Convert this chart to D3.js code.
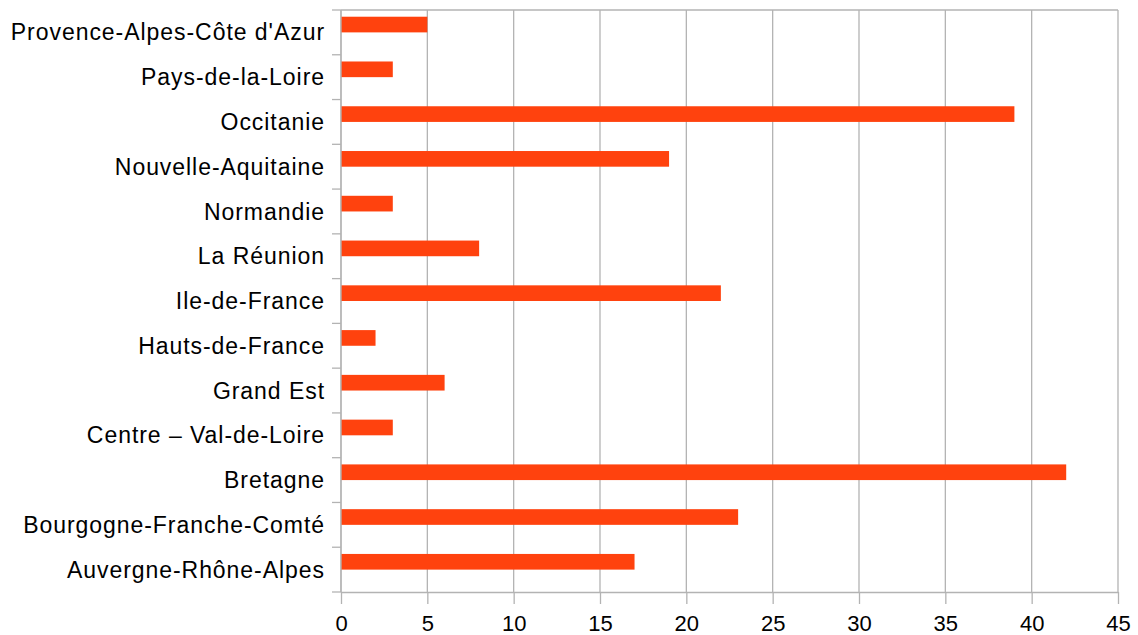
<!DOCTYPE html>
<html>
<head>
<meta charset="utf-8">
<script src="https://cdn.jsdelivr.net/npm/d3@7"></script>
<style>
  html, body { margin: 0; padding: 0; background: #fff; }
  svg { display: block; }
  text { font-family: "Liberation Sans", Arial, sans-serif; fill: #000; }
</style>
</head>
<body>
<svg id="chart" width="1138" height="635"></svg>
<script>
const categories = [
  "Provence-Alpes-Côte d'Azur", "Pays-de-la-Loire", "Occitanie", "Nouvelle-Aquitaine",
  "Normandie", "La Réunion", "Ile-de-France", "Hauts-de-France", "Grand Est",
  "Centre – Val-de-Loire", "Bretagne", "Bourgogne-Franche-Comté", "Auvergne-Rhône-Alpes"
];
const values = [5, 3, 39, 19, 3, 8, 22, 2, 6, 3, 42, 23, 17];
const xTicks = [0, 5, 10, 15, 20, 25, 30, 35, 40, 45];

(function () {
const svg = d3.select("#chart");
const pLeft = 341, pRight = 1118, pTop = 10, pBottom = 592;

const x = d3.scaleLinear().domain([0, 45]).range([pLeft, pRight]);
const y = d3.scaleBand().domain(categories).range([pTop, pBottom]).paddingInner(0.3).paddingOuter(0.15);
const step = y.step();

const gridColor = "#b3b3b3";

// vertical grid lines
svg.append("g").selectAll("line").data(xTicks).join("line")
  .attr("x1", d => x(d)).attr("x2", d => x(d))
  .attr("y1", pTop).attr("y2", pBottom)
  .attr("stroke", gridColor).attr("stroke-width", 1.3);

// top border
svg.append("line").attr("x1", pLeft).attr("x2", pRight).attr("y1", pTop).attr("y2", pTop)
  .attr("stroke", gridColor).attr("stroke-width", 1.3);

// bars (series occupies upper half of each group)
svg.append("g").selectAll("rect").data(values).join("rect")
  .attr("x", x(0))
  .attr("y", (d, i) => y(categories[i]))
  .attr("width", d => x(d) - x(0))
  .attr("height", y.bandwidth() / 2)
  .attr("fill", "#ff420e");

// bottom axis
const xAxis = d3.axisBottom(x).tickValues(xTicks).tickSize(12).tickPadding(11).tickSizeOuter(0);
const gx = svg.append("g").attr("transform", `translate(0,${pBottom})`).call(xAxis);
gx.select(".domain").attr("stroke", gridColor).attr("stroke-width", 1.3);
gx.selectAll(".tick line").attr("stroke", gridColor).attr("stroke-width", 1.3);
gx.selectAll(".tick text").style("font-size", "22px").attr("fill", "#000")
  .style("font-family", "'Liberation Sans', Arial, sans-serif");

// left axis: ticks at band boundaries
const bounds = d3.range(categories.length + 1).map(i => pTop + i * step);
svg.append("line").attr("x1", pLeft).attr("x2", pLeft).attr("y1", pTop).attr("y2", pBottom)
  .attr("stroke", gridColor).attr("stroke-width", 1.3);
svg.append("g").selectAll("line").data(bounds).join("line")
  .attr("x1", pLeft - 9).attr("x2", pLeft).attr("y1", d => d).attr("y2", d => d)
  .attr("stroke", gridColor).attr("stroke-width", 1.3);

svg.append("g").selectAll("text").data(categories).join("text")
  .attr("x", pLeft - 16)
  .attr("y", d => y(d) + y.bandwidth() / 2)
  .attr("dy", "0.35em")
  .attr("text-anchor", "end")
  .style("font-size", "23px")
  .style("letter-spacing", "0.95px")
  .text(d => d);
})();
</script>
</body>
</html>
